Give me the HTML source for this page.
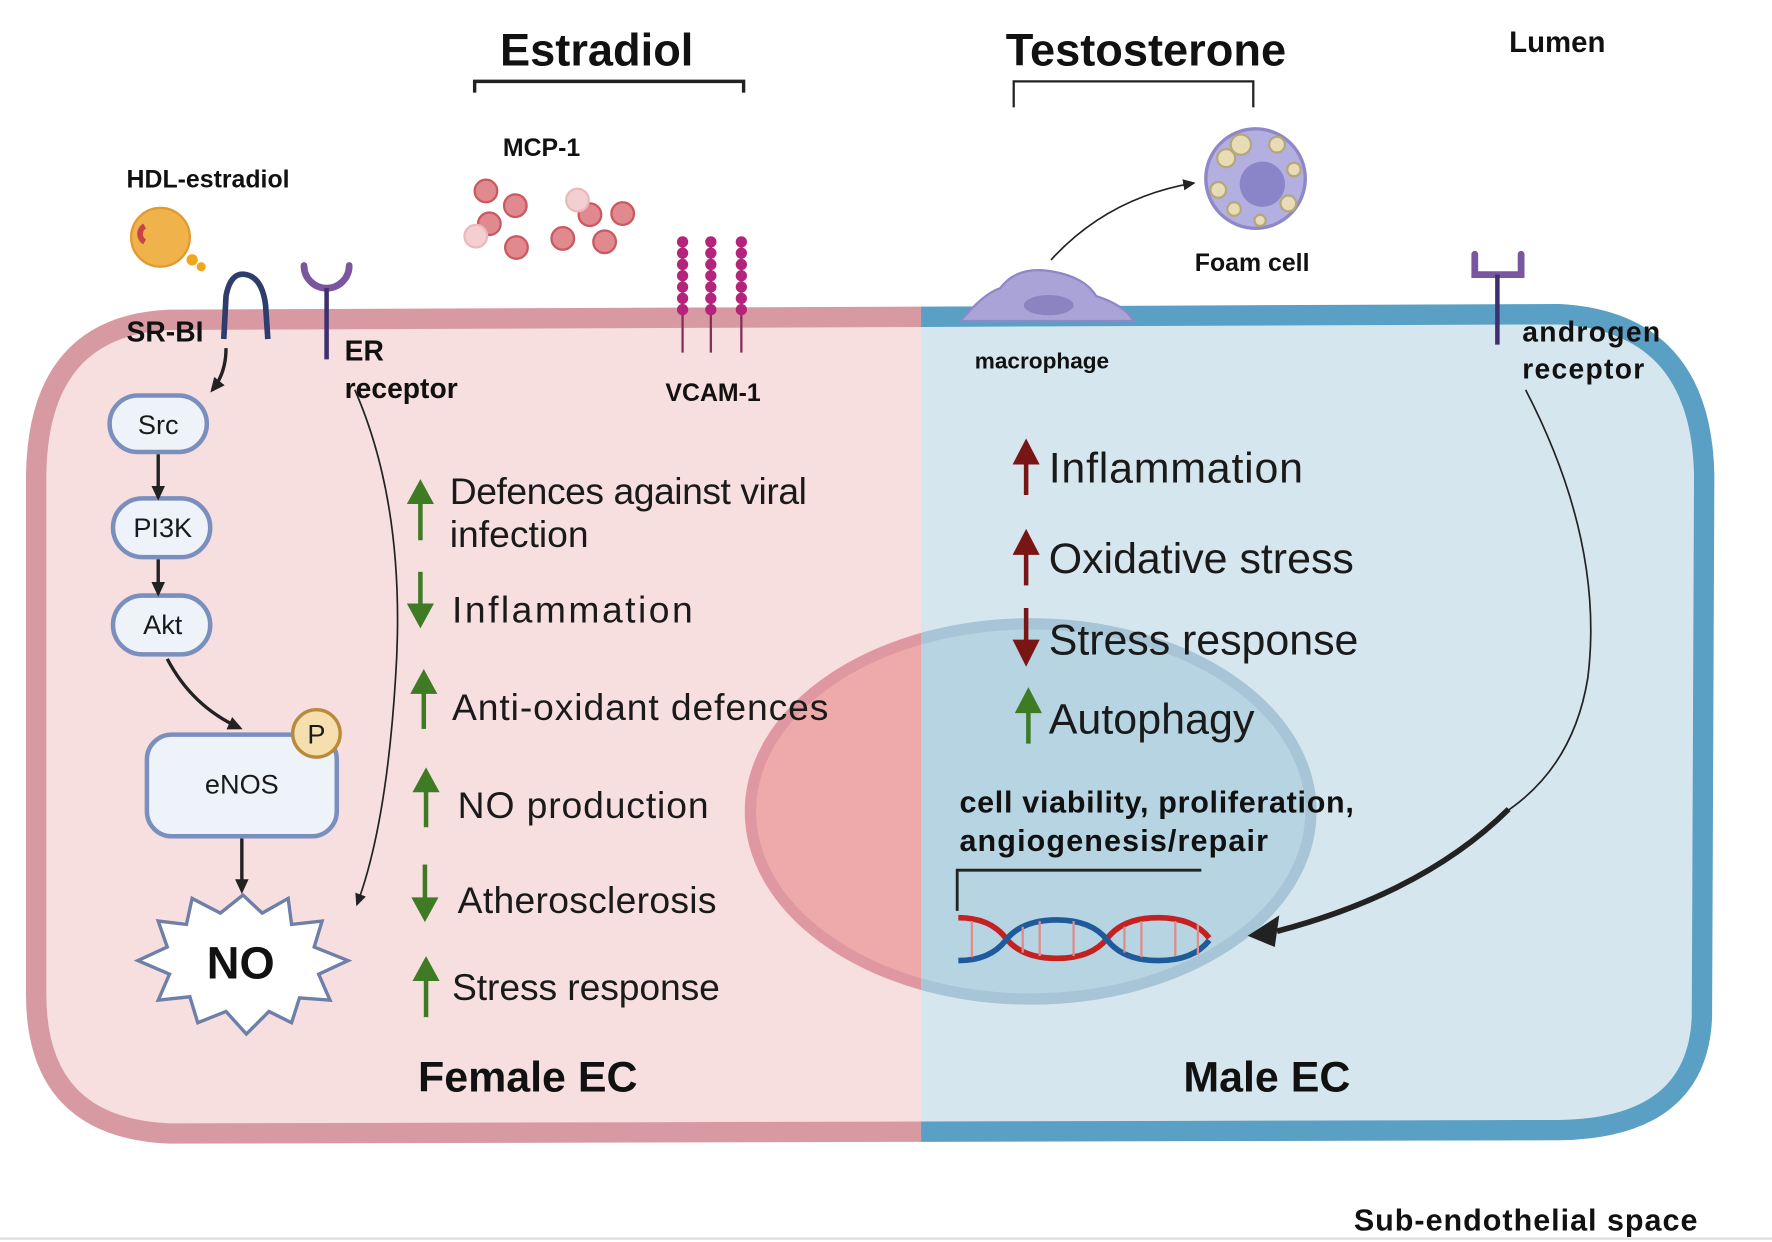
<!DOCTYPE html>
<html><head><meta charset="utf-8"><style>
html,body{margin:0;padding:0;background:#fff;}
svg{display:block;}
text{font-family:"Liberation Sans",sans-serif;}
.b{font-weight:bold;fill:#111;}
.r{fill:#1a1a1a;}
</style></head><body>
<svg width="1772" height="1242" viewBox="0 0 1568 1099" preserveAspectRatio="none" xmlns="http://www.w3.org/2000/svg">
<defs>
<clipPath id="L"><rect x="0" y="0" width="815" height="1099"/></clipPath>
<clipPath id="R"><rect x="815" y="0" width="800" height="1099"/></clipPath>
<marker id="ah" markerWidth="14" markerHeight="14" refX="10" refY="7" orient="auto" markerUnits="userSpaceOnUse"><path d="M0,1 L13,7 L0,13 Z" fill="#222"/></marker>
<marker id="as" markerWidth="12" markerHeight="12" refX="9" refY="6" orient="auto" markerUnits="userSpaceOnUse"><path d="M0,1 L11,6 L0,11 Z" fill="#222"/></marker>
</defs>
<rect width="1568" height="1099" fill="#fff"/>
<line x1="0" y1="1096" x2="1568" y2="1096" stroke="#ddd" stroke-width="2"/>
<g clip-path="url(#L)">
<path d="M150 283 L1380 278 Q1505 285 1508 420 L1506 900 Q1502 998 1380 1000 L150 1003 Q32 998 32 880 L32 420 Q34 288 150 283 Z" fill="#f7dfe0" stroke="#d79aa3" stroke-width="18"/>
<ellipse cx="912" cy="718" rx="248" ry="166" fill="#eeaaab" stroke="#df98a1" stroke-width="10"/>
</g>
<g clip-path="url(#R)">
<path d="M150 283 L1380 278 Q1505 285 1508 420 L1506 900 Q1502 998 1380 1000 L150 1003 Q32 998 32 880 L32 420 Q34 288 150 283 Z" fill="#d6e6ee" stroke="#5a9fc4" stroke-width="18"/>
<ellipse cx="912" cy="718" rx="248" ry="166" fill="#b6d4e2" stroke="#a7c5d6" stroke-width="10"/>
</g>

<text x="528" y="58" class="b" font-size="40" text-anchor="middle">Estradiol</text>
<path d="M420 82 V72 H658 V82" fill="none" stroke="#222" stroke-width="3"/>
<text x="1014" y="58" class="b" font-size="40" text-anchor="middle">Testosterone</text>
<path d="M897 95 V72 H1109 V95" fill="none" stroke="#222" stroke-width="2"/>
<text x="1378" y="46" class="b" font-size="26" text-anchor="middle">Lumen</text>

<text x="112" y="166" class="b" font-size="22">HDL-estradiol</text>
<circle cx="142" cy="210" r="26" fill="#f0b24a" stroke="#e09a30" stroke-width="2"/>
<path d="M128 200 a8 8 0 0 0 0 14" stroke="#c94444" stroke-width="5" fill="none"/>
<circle cx="170" cy="230" r="5" fill="#f3a51c"/><circle cx="178" cy="236" r="4" fill="#f3a51c"/>
<text x="445" y="138" class="b" font-size="22">MCP-1</text>
<g stroke="#c9585f" stroke-width="2" fill="#e08a8f">
<circle cx="430" cy="169" r="10"/><circle cx="456" cy="182" r="10"/><circle cx="433" cy="198" r="10"/>
<circle cx="457" cy="219" r="10"/><circle cx="498" cy="211" r="10"/><circle cx="522" cy="190" r="10"/>
<circle cx="551" cy="189" r="10"/><circle cx="535" cy="214" r="10"/></g>
<g fill="#f3cfd2" stroke="#ebb9bd" stroke-width="2"><circle cx="421" cy="209" r="10"/><circle cx="511" cy="177" r="10"/></g>

<g stroke="#8a2a55" stroke-width="2"><line x1="604" y1="215" x2="604" y2="312"/><line x1="629" y1="215" x2="629" y2="312"/><line x1="656" y1="215" x2="656" y2="312"/></g>
<g fill="#b3247a">
<circle cx="604" cy="214" r="5"/><circle cx="604" cy="224" r="5"/><circle cx="604" cy="234" r="5"/><circle cx="604" cy="244" r="5"/><circle cx="604" cy="254" r="5"/><circle cx="604" cy="264" r="5"/><circle cx="604" cy="274" r="5"/>
<circle cx="629" cy="214" r="5"/><circle cx="629" cy="224" r="5"/><circle cx="629" cy="234" r="5"/><circle cx="629" cy="244" r="5"/><circle cx="629" cy="254" r="5"/><circle cx="629" cy="264" r="5"/><circle cx="629" cy="274" r="5"/>
<circle cx="656" cy="214" r="5"/><circle cx="656" cy="224" r="5"/><circle cx="656" cy="234" r="5"/><circle cx="656" cy="244" r="5"/><circle cx="656" cy="254" r="5"/><circle cx="656" cy="264" r="5"/><circle cx="656" cy="274" r="5"/></g>
<text x="631" y="355" class="b" font-size="22" text-anchor="middle">VCAM-1</text>

<path d="M198 300 L200 262 Q204 240 218 243 Q232 246 235 270 L237 300" fill="none" stroke="#2e3d6b" stroke-width="5"/>
<text x="112" y="302" class="b" font-size="25">SR-BI</text>
<path d="M200 308 Q200 330 188 345" fill="none" stroke="#222" stroke-width="3" marker-end="url(#ah)"/>
<path d="M269 235 a20 20 0 0 0 40 0" fill="none" stroke="#7a55a0" stroke-width="6" stroke-linecap="round"/>
<line x1="289" y1="255" x2="289" y2="318" stroke="#3e3070" stroke-width="4"/>
<text x="305" y="319" class="b" font-size="25">ER</text>
<text x="305" y="352" class="b" font-size="25">receptor</text>
<path d="M314 345 Q360 450 350 600 Q342 730 316 800" fill="none" stroke="#222" stroke-width="1.5" marker-end="url(#as)"/>

<g fill="#eef3fa" stroke="#7b8fbe" stroke-width="4">
<rect x="97" y="350" width="86" height="50" rx="25"/>
<rect x="100" y="441" width="86" height="52" rx="26"/>
<rect x="100" y="527" width="86" height="52" rx="26"/>
<rect x="130" y="650" width="168" height="90" rx="22"/>
</g>
<text x="140" y="384" class="r" font-size="24" text-anchor="middle">Src</text>
<text x="144" y="475" class="r" font-size="24" text-anchor="middle">PI3K</text>
<text x="144" y="561" class="r" font-size="24" text-anchor="middle">Akt</text>
<text x="214" y="702" class="r" font-size="24" text-anchor="middle">eNOS</text>
<circle cx="280" cy="649" r="21" fill="#f6dfae" stroke="#b98a3c" stroke-width="3"/>
<text x="280" y="658" class="r" font-size="24" text-anchor="middle">P</text>
<g stroke="#222" stroke-width="3" fill="none">
<line x1="140" y1="402" x2="140" y2="440" marker-end="url(#ah)"/>
<line x1="140" y1="495" x2="140" y2="525" marker-end="url(#ah)"/>
<path d="M148 583 Q170 625 212 644" marker-end="url(#ah)"/>
<line x1="214" y1="742" x2="214" y2="788" marker-end="url(#ah)"/>
</g>
<polygon points="215,792 232,808 255,795 258,818 285,815 278,838 308,850 282,862 292,885 265,883 258,905 238,895 218,915 200,895 175,905 168,882 140,885 150,862 122,850 148,838 140,815 165,818 170,795 195,808" fill="#fff" stroke="#6e7fa8" stroke-width="3"/>
<text x="213" y="866" class="b" font-size="40" text-anchor="middle">NO</text>

<g font-size="33" class="r">
<text x="398" y="446" textLength="316">Defences against viral</text>
<text x="398" y="484">infection</text>
<text x="400" y="551" textLength="213">Inflammation</text>
<text x="400" y="637" textLength="333">Anti-oxidant defences</text>
<text x="405" y="724" textLength="222">NO production</text>
<text x="405" y="808" textLength="229">Atherosclerosis</text>
<text x="400" y="885" textLength="237">Stress response</text>
</g>
<g fill="#3f7a25" stroke="#3f7a25" stroke-width="4">
<line x1="372" y1="440" x2="372" y2="478"/><polygon points="360,446 372,424 384,446" stroke="none"/>
<line x1="372" y1="506" x2="372" y2="540"/><polygon points="360,534 372,556 384,534" stroke="none"/>
<line x1="375" y1="608" x2="375" y2="645"/><polygon points="363,614 375,592 387,614" stroke="none"/>
<line x1="377" y1="695" x2="377" y2="732"/><polygon points="365,701 377,679 389,701" stroke="none"/>
<line x1="376" y1="765" x2="376" y2="800"/><polygon points="364,794 376,816 388,794" stroke="none"/>
<line x1="377" y1="862" x2="377" y2="900"/><polygon points="365,868 377,846 389,868" stroke="none"/>
</g>
<text x="467" y="966" class="b" font-size="38" text-anchor="middle">Female EC</text>

<path d="M850 284 Q870 260 885 255 Q900 235 930 240 Q960 245 970 262 Q995 270 1003 284 Z" fill="#a9a3d8" stroke="#8f88c8" stroke-width="2"/>
<ellipse cx="928" cy="270" rx="22" ry="9" fill="#8c84c0"/>
<text x="922" y="326" class="b" font-size="20" text-anchor="middle">macrophage</text>
<path d="M930 230 Q980 175 1056 162" fill="none" stroke="#222" stroke-width="1.5" marker-end="url(#as)"/>
<circle cx="1111" cy="158" r="44" fill="#b3afe0" stroke="#8f88c8" stroke-width="3"/>
<circle cx="1117" cy="163" r="20" fill="#8a84c8"/>
<g fill="#e7dcb5" stroke="#b4a87a" stroke-width="2">
<circle cx="1085" cy="140" r="8"/><circle cx="1098" cy="128" r="9"/><circle cx="1130" cy="128" r="7"/><circle cx="1145" cy="150" r="6"/><circle cx="1078" cy="168" r="7"/><circle cx="1092" cy="185" r="6"/><circle cx="1140" cy="180" r="7"/><circle cx="1115" cy="195" r="5"/></g>
<text x="1108" y="240" class="b" font-size="22" text-anchor="middle">Foam cell</text>

<path d="M1305 225 V243 H1346 V225" fill="none" stroke="#7a55a0" stroke-width="6" stroke-linecap="round"/>
<line x1="1325" y1="243" x2="1325" y2="305" stroke="#3e3070" stroke-width="4"/>
<text x="1347" y="302" class="b" font-size="25" textLength="122">androgen</text>
<text x="1347" y="335" class="b" font-size="25" textLength="108">receptor</text>
<path d="M1350 345 Q1420 480 1405 600 Q1392 680 1330 720" fill="none" stroke="#222" stroke-width="1.5"/>
<path d="M1335 716 Q1260 790 1130 824" fill="none" stroke="#222" stroke-width="5"/>
<polygon points="1104,828 1132,810 1128,838" fill="#222"/>

<g font-size="38" class="r">
<text x="928" y="427" textLength="225">Inflammation</text>
<text x="928" y="507" textLength="270">Oxidative stress</text>
<text x="928" y="579" textLength="274">Stress response</text>
<text x="928" y="649" textLength="182">Autophagy</text>
</g>
<g stroke-width="4">
<line x1="908" y1="405" x2="908" y2="438" stroke="#7a1515"/><polygon points="896,411 908,388 920,411" fill="#7a1515"/>
<line x1="908" y1="485" x2="908" y2="518" stroke="#7a1515"/><polygon points="896,491 908,468 920,491" fill="#7a1515"/>
<line x1="908" y1="538" x2="908" y2="570" stroke="#7a1515"/><polygon points="896,566 908,590 920,566" fill="#7a1515"/>
<line x1="910" y1="625" x2="910" y2="658" stroke="#3f7a25"/><polygon points="898,631 910,608 922,631" fill="#3f7a25"/>
</g>
<text x="849" y="719" class="b" font-size="27" textLength="349">cell viability, proliferation,</text>
<text x="849" y="753" class="b" font-size="27" textLength="273">angiogenesis/repair</text>
<path d="M847 806 V770 H1063" fill="none" stroke="#222" stroke-width="2.5"/>
<g fill="none" stroke-width="5">
<path d="M848 812 Q876 812 890 830 T935 848 T980 830 T1025 812 T1070 830" stroke="#c42121"/>
<path d="M848 850 Q876 850 890 832 T935 814 T980 832 T1025 850 T1070 832" stroke="#1f5a9b"/>
</g>
<g stroke="#e08a8a" stroke-width="2">
<line x1="860" y1="815" x2="860" y2="847"/><line x1="905" y1="820" x2="905" y2="843"/><line x1="920" y1="815" x2="920" y2="846"/><line x1="950" y1="815" x2="950" y2="846"/><line x1="995" y1="820" x2="995" y2="843"/><line x1="1010" y1="815" x2="1010" y2="847"/><line x1="1040" y1="815" x2="1040" y2="846"/><line x1="1060" y1="818" x2="1060" y2="845"/></g>
<text x="1121" y="966" class="b" font-size="38" text-anchor="middle">Male EC</text>
<text x="1350" y="1089" class="b" font-size="27" text-anchor="middle" textLength="304">Sub-endothelial space</text>
</svg>
</body></html>
